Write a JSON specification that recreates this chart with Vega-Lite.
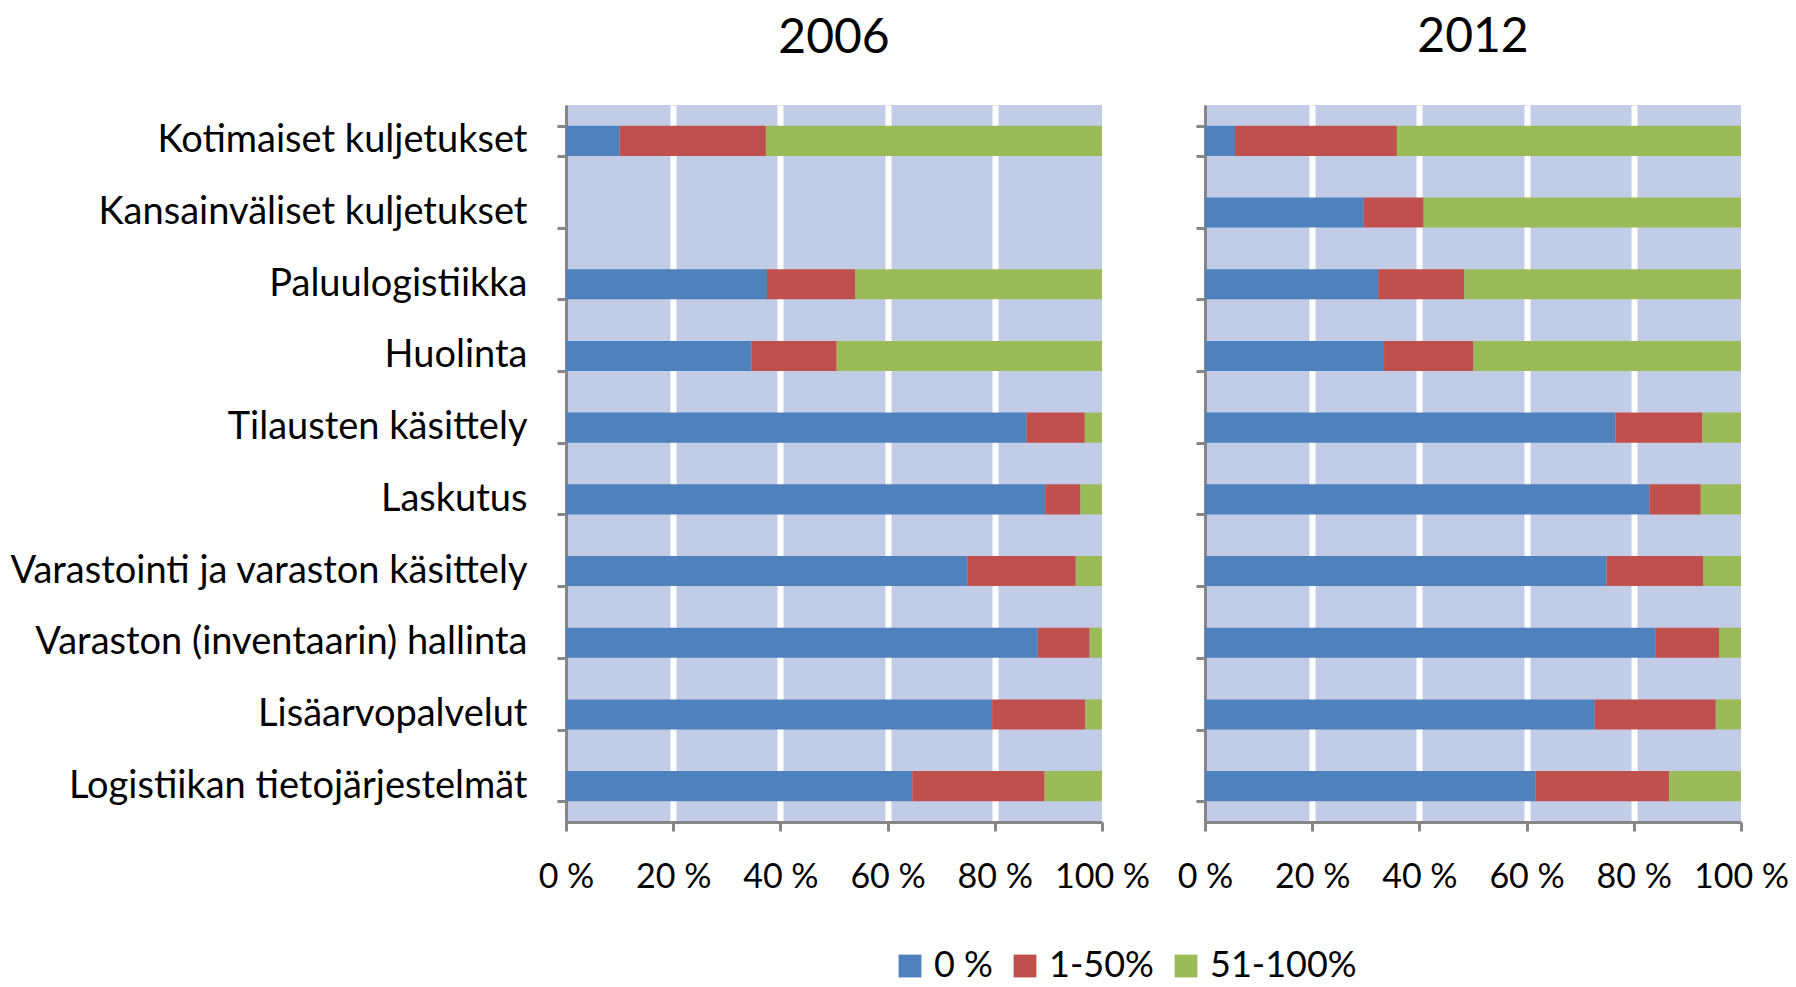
{
  "$schema": "https://vega.github.io/schema/vega-lite/v6.json",
  "background": "white",
  "padding": {"left": 9, "top": 14, "right": 5, "bottom": 0},
  "data": {"values": [
    {"year": "2006", "category": "Kotimaiset kuljetukset", "level": "0 %", "value": 10.0},
    {"year": "2006", "category": "Kotimaiset kuljetukset", "level": "1-50%", "value": 27.3},
    {"year": "2006", "category": "Kotimaiset kuljetukset", "level": "51-100%", "value": 62.7},
    {"year": "2006", "category": "Paluulogistiikka", "level": "0 %", "value": 37.5},
    {"year": "2006", "category": "Paluulogistiikka", "level": "1-50%", "value": 16.5},
    {"year": "2006", "category": "Paluulogistiikka", "level": "51-100%", "value": 46.0},
    {"year": "2006", "category": "Huolinta", "level": "0 %", "value": 34.6},
    {"year": "2006", "category": "Huolinta", "level": "1-50%", "value": 15.9},
    {"year": "2006", "category": "Huolinta", "level": "51-100%", "value": 49.5},
    {"year": "2006", "category": "Tilausten käsittely", "level": "0 %", "value": 85.9},
    {"year": "2006", "category": "Tilausten käsittely", "level": "1-50%", "value": 10.9},
    {"year": "2006", "category": "Tilausten käsittely", "level": "51-100%", "value": 3.2},
    {"year": "2006", "category": "Laskutus", "level": "0 %", "value": 89.4},
    {"year": "2006", "category": "Laskutus", "level": "1-50%", "value": 6.6},
    {"year": "2006", "category": "Laskutus", "level": "51-100%", "value": 4.0},
    {"year": "2006", "category": "Varastointi ja varaston käsittely", "level": "0 %", "value": 74.9},
    {"year": "2006", "category": "Varastointi ja varaston käsittely", "level": "1-50%", "value": 20.2},
    {"year": "2006", "category": "Varastointi ja varaston käsittely", "level": "51-100%", "value": 4.9},
    {"year": "2006", "category": "Varaston (inventaarin) hallinta", "level": "0 %", "value": 88.0},
    {"year": "2006", "category": "Varaston (inventaarin) hallinta", "level": "1-50%", "value": 9.7},
    {"year": "2006", "category": "Varaston (inventaarin) hallinta", "level": "51-100%", "value": 2.3},
    {"year": "2006", "category": "Lisäarvopalvelut", "level": "0 %", "value": 79.5},
    {"year": "2006", "category": "Lisäarvopalvelut", "level": "1-50%", "value": 17.4},
    {"year": "2006", "category": "Lisäarvopalvelut", "level": "51-100%", "value": 3.1},
    {"year": "2006", "category": "Logistiikan tietojärjestelmät", "level": "0 %", "value": 64.6},
    {"year": "2006", "category": "Logistiikan tietojärjestelmät", "level": "1-50%", "value": 24.7},
    {"year": "2006", "category": "Logistiikan tietojärjestelmät", "level": "51-100%", "value": 10.7},
    {"year": "2012", "category": "Kotimaiset kuljetukset", "level": "0 %", "value": 5.6},
    {"year": "2012", "category": "Kotimaiset kuljetukset", "level": "1-50%", "value": 30.2},
    {"year": "2012", "category": "Kotimaiset kuljetukset", "level": "51-100%", "value": 64.2},
    {"year": "2012", "category": "Kansainväliset kuljetukset", "level": "0 %", "value": 29.6},
    {"year": "2012", "category": "Kansainväliset kuljetukset", "level": "1-50%", "value": 11.2},
    {"year": "2012", "category": "Kansainväliset kuljetukset", "level": "51-100%", "value": 59.2},
    {"year": "2012", "category": "Paluulogistiikka", "level": "0 %", "value": 32.3},
    {"year": "2012", "category": "Paluulogistiikka", "level": "1-50%", "value": 16.1},
    {"year": "2012", "category": "Paluulogistiikka", "level": "51-100%", "value": 51.6},
    {"year": "2012", "category": "Huolinta", "level": "0 %", "value": 33.4},
    {"year": "2012", "category": "Huolinta", "level": "1-50%", "value": 16.7},
    {"year": "2012", "category": "Huolinta", "level": "51-100%", "value": 49.9},
    {"year": "2012", "category": "Tilausten käsittely", "level": "0 %", "value": 76.6},
    {"year": "2012", "category": "Tilausten käsittely", "level": "1-50%", "value": 16.2},
    {"year": "2012", "category": "Tilausten käsittely", "level": "51-100%", "value": 7.2},
    {"year": "2012", "category": "Laskutus", "level": "0 %", "value": 82.9},
    {"year": "2012", "category": "Laskutus", "level": "1-50%", "value": 9.6},
    {"year": "2012", "category": "Laskutus", "level": "51-100%", "value": 7.5},
    {"year": "2012", "category": "Varastointi ja varaston käsittely", "level": "0 %", "value": 74.9},
    {"year": "2012", "category": "Varastointi ja varaston käsittely", "level": "1-50%", "value": 18.1},
    {"year": "2012", "category": "Varastointi ja varaston käsittely", "level": "51-100%", "value": 7.0},
    {"year": "2012", "category": "Varaston (inventaarin) hallinta", "level": "0 %", "value": 84.1},
    {"year": "2012", "category": "Varaston (inventaarin) hallinta", "level": "1-50%", "value": 11.8},
    {"year": "2012", "category": "Varaston (inventaarin) hallinta", "level": "51-100%", "value": 4.1},
    {"year": "2012", "category": "Lisäarvopalvelut", "level": "0 %", "value": 72.7},
    {"year": "2012", "category": "Lisäarvopalvelut", "level": "1-50%", "value": 22.6},
    {"year": "2012", "category": "Lisäarvopalvelut", "level": "51-100%", "value": 4.7},
    {"year": "2012", "category": "Logistiikan tietojärjestelmät", "level": "0 %", "value": 61.7},
    {"year": "2012", "category": "Logistiikan tietojärjestelmät", "level": "1-50%", "value": 24.9},
    {"year": "2012", "category": "Logistiikan tietojärjestelmät", "level": "51-100%", "value": 13.4}
  ]},
  "spacing": 27,
  "hconcat": [
    {
      "title": {"text": "2006", "dy": 20},
      "width": 536,
      "height": 717,
      "transform": [{"filter": "datum.year === '2006'"}],
      "mark": {"type": "bar"},
      "encoding": {
        "y": {
          "field": "category", "type": "nominal", "title": null,
          "scale": {"domain": ["Kotimaiset kuljetukset", "Kansainväliset kuljetukset", "Paluulogistiikka", "Huolinta", "Tilausten käsittely", "Laskutus", "Varastointi ja varaston käsittely", "Varaston (inventaarin) hallinta", "Lisäarvopalvelut", "Logistiikan tietojärjestelmät"], "paddingInner": 0.58, "paddingOuter": 0.29},
          "axis": {"tickBand": "extent", "labelPadding": 30}
        },
        "x": {
          "field": "value", "type": "quantitative", "stack": "zero", "title": null,
          "scale": {"domain": [0, 100], "nice": false},
          "axis": {"values": [0, 20, 40, 60, 80, 100], "labelExpr": "datum.value + ' %'"}
        },
        "color": {
          "field": "level", "type": "nominal",
          "scale": {"domain": ["0 %", "1-50%", "51-100%"], "range": ["#4F81BD", "#C0504D", "#9BBB59"]},
          "legend": {"title": null, "orient": "none", "direction": "horizontal", "legendX": 326, "legendY": 843}
        }
      }
    },
    {
      "title": {"text": "2012"},
      "width": 536,
      "height": 717,
      "transform": [{"filter": "datum.year === '2012'"}],
      "mark": {"type": "bar"},
      "encoding": {
        "y": {
          "field": "category", "type": "nominal", "title": null,
          "scale": {"domain": ["Kotimaiset kuljetukset", "Kansainväliset kuljetukset", "Paluulogistiikka", "Huolinta", "Tilausten käsittely", "Laskutus", "Varastointi ja varaston käsittely", "Varaston (inventaarin) hallinta", "Lisäarvopalvelut", "Logistiikan tietojärjestelmät"], "paddingInner": 0.58, "paddingOuter": 0.29},
          "axis": {"tickBand": "extent", "labels": false}
        },
        "x": {
          "field": "value", "type": "quantitative", "stack": "zero", "title": null,
          "scale": {"domain": [0, 100], "nice": false},
          "axis": {"values": [0, 20, 40, 60, 80, 100], "labelExpr": "datum.value + ' %'"}
        },
        "color": {
          "field": "level", "type": "nominal",
          "scale": {"domain": ["0 %", "1-50%", "51-100%"], "range": ["#4F81BD", "#C0504D", "#9BBB59"]},
          "legend": {"title": null, "orient": "none", "direction": "horizontal", "legendX": 326, "legendY": 843}
        }
      }
    }
  ],
  "config": {
    "font": "Lato",
    "view": {"fill": "#C3CCE7", "stroke": null},
    "title": {"fontSize": 48, "fontWeight": "normal", "font": "Lato", "color": "#000000", "offset": 43, "anchor": "middle", "frame": "group"},
    "axis": {
      "domainColor": "#868686", "domainWidth": 3,
      "tickColor": "#868686", "tickWidth": 3, "tickSize": 9,
      "labelFont": "Lato", "labelColor": "#000000"
    },
    "axisY": {"grid": false, "labelFontSize": 38, "labelLimit": 700},
    "axisX": {
      "grid": true, "gridColor": "#FFFFFF", "gridWidth": 6,
      "gridOpacity": {"condition": {"test": "datum.value === 0 || datum.value === 100", "value": 0}, "value": 1},
      "labelFontSize": 34, "labelPadding": 29, "labelFlush": false
    },
    "legend": {
      "symbolType": "square", "symbolSize": 520, "symbolStrokeWidth": 0,
      "labelFontSize": 36, "labelFont": "Lato", "labelColor": "#000000",
      "columnPadding": 14, "symbolOffset": 0, "labelOffset": 6
    }
  }
}
